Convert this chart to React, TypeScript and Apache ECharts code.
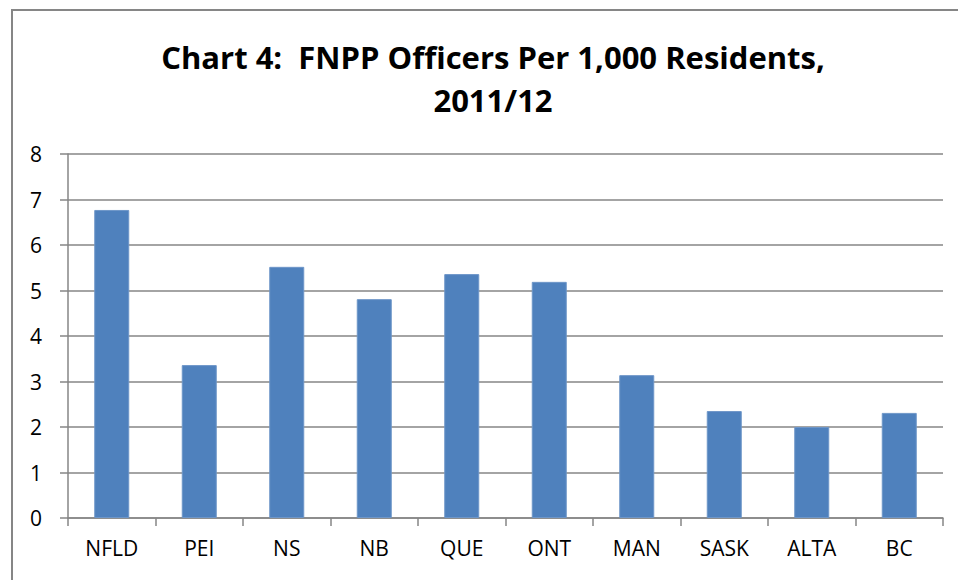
import React, { useEffect, useRef } from "react";
import * as echarts from "echarts";

const titleLines = ["Chart 4:  FNPP Officers Per 1,000 Residents,", "2011/12"];
const categories = ["NFLD", "PEI", "NS", "NB", "QUE", "ONT", "MAN", "SASK", "ALTA", "BC"];
const values = [6.77, 3.36, 5.52, 4.81, 5.36, 5.19, 3.14, 2.35, 2.0, 2.31];
const yMin = 0;
const yMax = 8;
const yStep = 1;

export default function App() {
  const ref = useRef<HTMLDivElement>(null);
  useEffect(() => {
    if (!ref.current) return;
    const chart = echarts.init(ref.current, undefined, { renderer: "svg" });
    const axisGray = "#868686";
    chart.setOption({
      animation: false,
      backgroundColor: "#ffffff",
      graphic: [
        {
          type: "rect",
          shape: { x: 12, y: 10, width: 1000, height: 700 },
          style: { fill: "none", stroke: axisGray, lineWidth: 2 },
          silent: true,
        },
        ...titleLines.map((t, i) => ({
          type: "text",
          x: 493,
          y: 57 + i * 43,
          silent: true,
          style: {
            text: t,
            textAlign: "center",
            textVerticalAlign: "middle",
            fontFamily: "Open Sans",
            fontWeight: "bold",
            fontSize: 31,
            fill: "#000000",
          },
        })),
      ],
      grid: { left: 68, right: 15, top: 154, bottom: 62, containLabel: false },
      xAxis: {
        type: "category",
        data: categories,
        axisLine: { show: true, lineStyle: { color: axisGray, width: 1.5 } },
        axisTick: { show: true, alignWithLabel: false, length: 8, lineStyle: { color: axisGray, width: 1.5 } },
        axisLabel: { color: "#000000", fontFamily: "Open Sans", fontSize: 21, margin: 19 },
        splitLine: { show: false },
      },
      yAxis: {
        type: "value",
        min: yMin,
        max: yMax,
        interval: yStep,
        axisLine: { show: true, lineStyle: { color: axisGray, width: 1.5 } },
        axisTick: { show: true, length: 8, lineStyle: { color: axisGray, width: 1.5 } },
        axisLabel: { color: "#000000", fontFamily: "Open Sans", fontSize: 21, margin: 26 },
        splitLine: { show: true, lineStyle: { color: axisGray, width: 1.5 } },
      },
      series: [
        {
          type: "bar",
          data: values,
          barWidth: "40%",
          itemStyle: { color: "#4F81BD", borderColor: "#6e96c8", borderWidth: 1 },
        },
      ],
    });
    return () => chart.dispose();
  }, []);
  return (
    <div
      ref={ref}
      style={{ position: "absolute", left: 0, top: 0, width: 958, height: 580 }}
    />
  );
}
